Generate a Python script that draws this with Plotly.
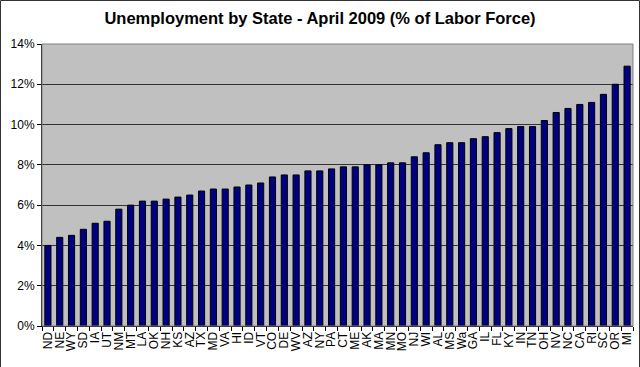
import plotly.graph_objects as go

states = ["ND", "NE", "WY", "SD", "IA", "UT", "NM", "MT", "LA", "OK",
          "NH", "KS", "AZ", "TX", "MD", "VA", "HI", "ID", "VT", "CO",
          "DE", "WV", "AZ", "NY", "PA", "CT", "ME", "AK", "MA", "MN",
          "MO", "NJ", "WI", "AL", "MS", "Wa", "GA", "IL", "FL", "KY",
          "IN", "TN", "OH", "NV", "NC", "CA", "RI", "SC", "OR", "MI"]
rates = [4.0, 4.4, 4.5, 4.8, 5.1, 5.2, 5.8, 6.0, 6.2, 6.2,
         6.3, 6.4, 6.5, 6.7, 6.8, 6.8, 6.9, 7.0, 7.1, 7.4,
         7.5, 7.5, 7.7, 7.7, 7.8, 7.9, 7.9, 8.0, 8.0, 8.1,
         8.1, 8.4, 8.6, 9.0, 9.1, 9.1, 9.3, 9.4, 9.6, 9.8,
         9.9, 9.9, 10.2, 10.6, 10.8, 11.0, 11.1, 11.5, 12.0, 12.9]
y_ticks = [0, 2, 4, 6, 8, 10, 12, 14]
y_tick_labels = [f"{v}%" for v in y_ticks]

positions = list(range(len(states)))

fig = go.Figure()
fig.add_trace(go.Bar(
    x=positions, y=rates,
    marker=dict(color="#000080", line=dict(color="#000000", width=1)),
    width=0.52,
    hovertemplate="%{customdata}: %{y}%<extra></extra>",
    customdata=states,
))

W, H = 640, 367
ml, mr, mt, mb = 42, 7, 44, 41
pw = W - ml - mr
ph = H - mt - mb

fig.update_layout(
    width=W, height=H,
    margin=dict(l=ml, r=mr, t=mt, b=mb, autoexpand=False),
    paper_bgcolor="white",
    plot_bgcolor="#C0C0C0",
    font=dict(family="Liberation Sans, Arial, sans-serif", size=12, color="black"),
    title=dict(text="<b>Unemployment by State - April 2009 (% of Labor Force)</b>",
               x=0.5, xanchor="center", y=1 - 18 / H, yanchor="middle",
               font=dict(size=16.5, color="black")),
    showlegend=False,
    xaxis=dict(
        range=[-0.5, len(states) - 0.5],
        tickmode="array", tickvals=positions, ticktext=states,
        tickangle=-90, ticks="", showgrid=False, zeroline=False,
        showline=True, linecolor="black", linewidth=1,
        tickfont=dict(size=12),
        minor=dict(ticks="outside", ticklen=4, tickcolor="black",
                   tick0=-0.5, dtick=1, showgrid=False),
    ),
    yaxis=dict(
        range=[0, 14], tickmode="array", tickvals=y_ticks, ticktext=y_tick_labels,
        ticks="outside", ticklen=4, tickcolor="black",
        showgrid=True, gridcolor="#333333", gridwidth=1,
        zeroline=False, showline=True, linecolor="black", linewidth=1,
        tickfont=dict(size=12),
    ),
)

# Gray border around plot area (top/right)
fig.add_shape(type="rect", xref="paper", yref="paper", x0=0, y0=0, x1=1, y1=1,
              line=dict(color="#808080", width=1), layer="above")
# Outer figure frame
fig.add_shape(type="rect", xref="paper", yref="paper",
              x0=(0.5 - ml) / pw, x1=(W - 0.5 - ml) / pw,
              y0=(mb - (H - 0.5)) / ph + 0, y1=(H - 0.5 - mb) / ph,
              line=dict(color="#333333", width=1), layer="above")

fig.write_html("out.html",
               config={"displayModeBar": False},
               post_script="document.body.style.margin='0';document.body.style.overflow='hidden';")
